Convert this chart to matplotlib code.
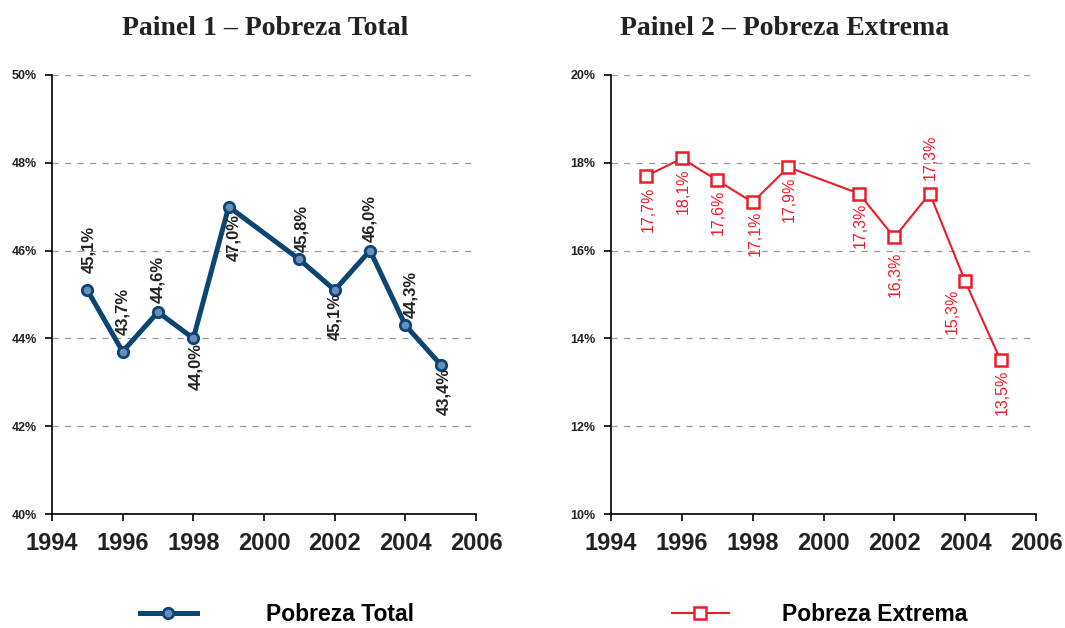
import matplotlib
matplotlib.use('Agg')
import matplotlib.pyplot as plt

# dados
anos = [1995, 1996, 1997, 1998, 1999, 2001, 2002, 2003, 2004, 2005]
total = [45.1, 43.7, 44.6, 44.0, 47.0, 45.8, 45.1, 46.0, 44.3, 43.4]
extrema = [17.7, 18.1, 17.6, 17.1, 17.9, 17.3, 16.3, 17.3, 15.3, 13.5]

# deslocamento dos rotulos (pixels): dx, dy (dy>0 acima do ponto)
desl_total = [(1, 17), (0, 17), (0, 9), (2, -5), (5, -7),
              (2, 7), (0, -3), (0, 9), (5, 7), (3, -3)]
desl_extrema = [(2, -11), (1, -10), (1, -9), (3, -8), (1, -9),
                (1, -9), (1, -14), (0, 14), (-13, -7), (2, -9)]

fonte = 'Liberation Sans'
azul = '#0b4572'
vermelho = '#ec1c2a'

fig = plt.figure(figsize=(10.65, 6.28), dpi=100)
ax1 = fig.add_axes([0.0488, 0.1815, 0.3982, 0.6991])
ax2 = fig.add_axes([0.5737, 0.1815, 0.3991, 0.6991])


def estilo(ax, ymin, ymax):
    ax.set_xlim(1994, 2006)
    ax.set_ylim(ymin, ymax)
    ax.set_xticks(range(1994, 2007, 2))
    ax.set_yticks(range(ymin, ymax + 1, 2))
    ax.set_yticklabels(['%d%%' % v for v in range(ymin, ymax + 1, 2)],
                       fontsize=9, fontweight='bold', family=fonte, color='#222222')
    ax.set_xticklabels([str(v) for v in range(1994, 2007, 2)],
                       fontsize=17, fontweight='bold', family=fonte, color='#222222')
    for s in ['top', 'right']:
        ax.spines[s].set_visible(False)
    ax.spines['left'].set_linewidth(1.2)
    ax.spines['bottom'].set_linewidth(1.2)
    ax.tick_params(axis='y', length=5, width=1.2, pad=6)
    ax.tick_params(axis='x', length=5, width=1.2, pad=8)
    for v in range(ymin + 2, ymax + 1, 2):
        ax.axhline(v, color='#999999', lw=0.9, ls=(0, (5, 5)), zorder=0)


estilo(ax1, 40, 50)
estilo(ax2, 10, 20)

ax1.plot(anos, total, color=azul, lw=3.6, marker='o', markersize=7.5,
         markerfacecolor='#6b8db9', markeredgecolor=azul, markeredgewidth=2,
         label='Pobreza Total', zorder=3)
ax2.plot(anos, extrema, color=vermelho, lw=1.5, marker='s', markersize=9,
         markerfacecolor='white', markeredgecolor=vermelho, markeredgewidth=1.8,
         label='Pobreza Extrema', zorder=3)

for x, y, (dx, dy) in zip(anos, total, desl_total):
    txt = ('%.1f%%' % y).replace('.', ',')
    ax1.annotate(txt, (x, y), xytext=(dx * 0.72, dy * 0.72), textcoords='offset points',
                 rotation=90, ha='center', va='bottom' if dy > 0 else 'top',
                 fontsize=12, fontweight='bold', family=fonte, color='#222222')

for x, y, (dx, dy) in zip(anos, extrema, desl_extrema):
    txt = ('%.1f%%' % y).replace('.', ',')
    ax2.annotate(txt, (x, y), xytext=(dx * 0.72, dy * 0.72), textcoords='offset points',
                 rotation=90, ha='center', va='bottom' if dy > 0 else 'top',
                 fontsize=11.5, family=fonte, color=vermelho)

fig.text(265 / 1065, 0.955, 'Painel 1 \u2013 Pobreza Total', ha='center', va='center',
         fontsize=20, fontweight='bold', family='Liberation Serif', color='#222222')
fig.text(785 / 1065, 0.955, 'Painel 2 \u2013 Pobreza Extrema', ha='center', va='center',
         fontsize=20, fontweight='bold', family='Liberation Serif', color='#222222')

ax1.legend(loc='center', bbox_to_anchor=(0.53, -0.228), frameon=False,
           handlelength=2.5, handletextpad=3.0,
           prop={'family': fonte, 'weight': 'bold', 'size': 16.5})
ax2.legend(loc='center', bbox_to_anchor=(0.49, -0.228), frameon=False,
           handlelength=2.5, handletextpad=2.3,
           prop={'family': fonte, 'weight': 'bold', 'size': 16.5})

plt.savefig('out.png', dpi=100)
